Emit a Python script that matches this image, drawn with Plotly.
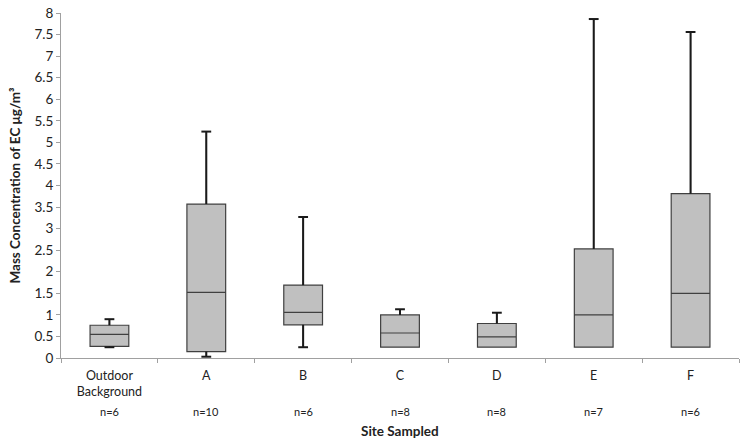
import plotly.graph_objects as go

categories = ["Outdoor<br>Background", "A", "B", "C", "D", "E", "F"]
n_labels = ["n=6", "n=10", "n=6", "n=8", "n=8", "n=7", "n=6"]
lower = [0.25, 0.03, 0.25, 0.25, 0.25, 0.25, 0.25]
q1 = [0.27, 0.15, 0.77, 0.25, 0.25, 0.25, 0.25]
median = [0.55, 1.52, 1.06, 0.58, 0.49, 1.00, 1.50]
q3 = [0.76, 3.57, 1.69, 1.00, 0.80, 2.53, 3.81]
upper = [0.90, 5.25, 3.27, 1.13, 1.05, 7.86, 7.56]
y_ticks = [i * 0.5 for i in range(17)]
y_ticktext = ["0", "0.5", "1", "1.5", "2", "2.5", "3", "3.5", "4", "4.5",
              "5", "5.5", "6", "6.5", "7", "7.5", "8"]

FONT = "Lato"
fig = go.Figure()
fig.add_trace(go.Box(
    x=categories, q1=q1, median=median, q3=q3,
    lowerfence=lower, upperfence=upper,
    fillcolor="#c0c0c0", line=dict(color="#404040", width=1.2),
    whiskerwidth=0, width=0.4, boxpoints=False, showlegend=False,
    hoverinfo="skip"))

# thicker whisker lines
wx, wy = [], []
for c, lo, a, b, hi in zip(categories, lower, q1, q3, upper):
    wx += [c, c, None, c, c, None]
    wy += [b, hi, None, lo, a, None]
fig.add_trace(go.Scatter(x=wx, y=wy, mode="lines", line=dict(color="#1a1a1a", width=2),
                         showlegend=False, hoverinfo="skip", connectgaps=False))
# caps
cap_x, cap_y = [], []
for c, lo, a, b, hi in zip(categories, lower, q1, q3, upper):
    cap_x.append(c); cap_y.append(hi)
    if a - lo > 0.005:
        cap_x.append(c); cap_y.append(lo)
fig.add_trace(go.Scatter(x=cap_x, y=cap_y, mode="markers",
                         marker=dict(symbol="line-ew", size=7, line=dict(color="#1a1a1a", width=2)),
                         showlegend=False, hoverinfo="skip"))

for c, n in zip(categories, n_labels):
    fig.add_annotation(x=c, y=0, xref="x", yref="paper", text=n, showarrow=False,
                       yshift=-53, yanchor="middle", font=dict(size=11, color="#222"))

fig.add_annotation(x=0.5, y=-0.212, xref="paper", yref="paper", text="<b>Site Sampled</b>",
                   showarrow=False, yanchor="middle", font=dict(size=13.5, color="#222"))
fig.add_annotation(x=-0.0693, y=0.5, xref="paper", yref="paper",
                   text="<b>Mass Concentration of EC μg/m³</b>", textangle=-90,
                   showarrow=False, xanchor="center", yanchor="middle",
                   font=dict(size=13.5, color="#222"))

fig.update_layout(
    width=749, height=447,
    margin=dict(l=61, r=10, t=13, b=89, autoexpand=False),
    paper_bgcolor="white", plot_bgcolor="white",
    font=dict(family=FONT, size=13, color="#222"),
    xaxis=dict(type="category", showgrid=False, showline=True, linecolor="#a0a0a0",
               linewidth=1, ticks="outside", tickson="boundaries", ticklen=4,
               tickcolor="#a0a0a0", tickfont=dict(size=12.5), range=[-0.5, 6.5],
               ticklabelstandoff=6, automargin=False),
    yaxis=dict(range=[0, 8], tickvals=y_ticks, ticktext=y_ticktext, showgrid=False,
               zeroline=False, showline=True, linecolor="#a0a0a0", linewidth=1,
               ticks="outside", ticklen=4, tickcolor="#a0a0a0", tickfont=dict(size=13.5),
               automargin=False),
)
fig.write_html("out.html", config={"displayModeBar": False},
               post_script="document.body.style.margin='0';")
